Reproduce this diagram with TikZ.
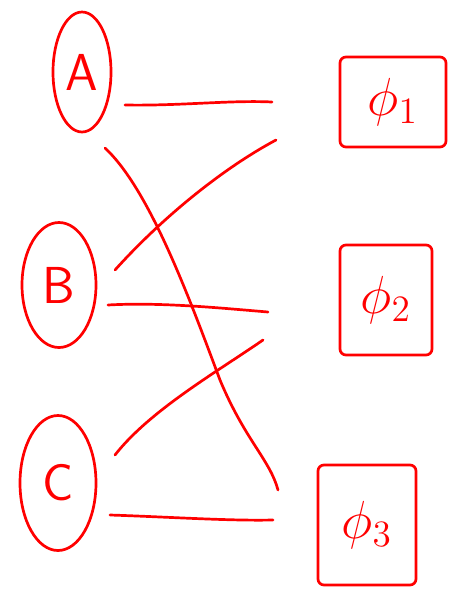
\documentclass[tikz,border=0pt]{standalone}
\usepackage{graphicx}
\usetikzlibrary{shapes.geometric}
\definecolor{pen}{RGB}{255,0,0}
\newcommand{\bigphi}[1]{\scalebox{3.1}{$\phi_{#1}$}}
\begin{document}
\begin{tikzpicture}[x=1pt,y=1pt,
  ink/.style={draw=pen,line width=2.7pt,line cap=round,line join=round},
  letter/.style={ink,ellipse,inner sep=0pt,text=pen,font=\fontsize{52}{52}\selectfont\sffamily},
  fbox/.style={ink,rectangle,rounded corners=6pt,inner sep=0pt,text=pen,font=\LARGE},
  wire/.style={ink}]
\useasboundingbox (0,0) rectangle (452,-598);
\node[letter,minimum width=58pt,minimum height=120pt] (A) at (82,-72) {A};
\node[letter,minimum width=74pt,minimum height=125pt] (B) at (59,-285) {B};
\node[letter,minimum width=76pt,minimum height=135pt] (C) at (58,-483) {C};
\node[fbox,minimum width=106pt,minimum height=90pt] (P1) at (393,-102) {\bigphi{1}};
\node[fbox,minimum width=92pt,minimum height=110pt] (P2) at (386,-300) {\bigphi{2}};
\node[fbox,minimum width=98pt,minimum height=120pt] (P3) at (367,-525) {\bigphi{3}};
\coordinate (a1) at (125,-105); \coordinate (p1a) at (272,-102);
\coordinate (a2) at (105,-148); \coordinate (p3a) at (278,-490);
\coordinate (b1) at (115,-270); \coordinate (p1b) at (276,-140);
\coordinate (b2) at (108,-305); \coordinate (p2a) at (268,-312);
\coordinate (p2b) at (263,-340); \coordinate (c1) at (115,-455);
\coordinate (c2) at (110,-515); \coordinate (p3b) at (273,-520);
\draw[wire] (a1) .. controls (180,-106) and (230,-100) .. (p1a);
\draw[wire] (a2) .. controls (150,-190) and (190,-300) .. (220,-380) .. controls (245,-440) and (270,-460) .. (p3a);
\draw[wire] (b1) .. controls (160,-220) and (220,-170) .. (p1b);
\draw[wire] (b2) .. controls (160,-302) and (220,-308) .. (p2a);
\draw[wire] (p2b) .. controls (220,-370) and (150,-410) .. (c1);
\draw[wire] (c2) .. controls (170,-517) and (230,-521) .. (p3b);
\end{tikzpicture}
\end{document}
